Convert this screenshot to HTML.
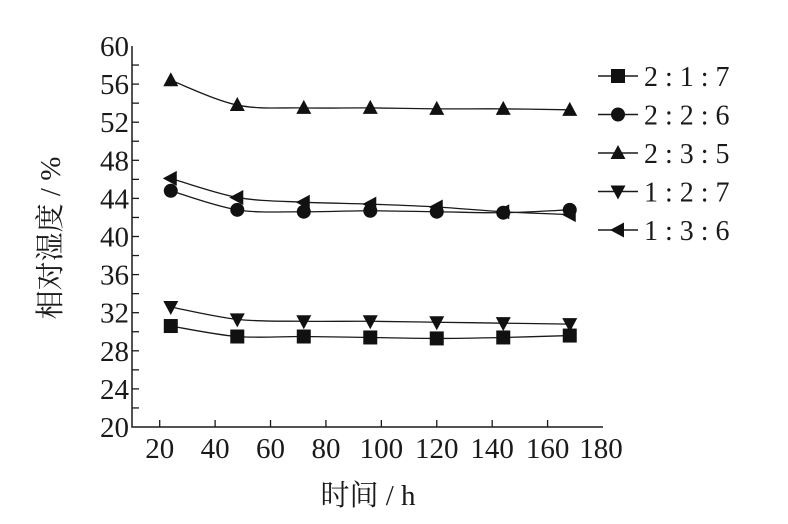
<!DOCTYPE html>
<html><head><meta charset="utf-8"><style>
body{margin:0;background:#fff}
svg text{font-family:"Liberation Serif","Noto Serif CJK SC",serif;fill:#1a1a1a}
</style></head><body>
<svg id="chart" width="788" height="519" viewBox="0 0 788 519" xmlns="http://www.w3.org/2000/svg">
<g id="axes"></g>
<g id="series"></g>
<g id="legend"></g>
<text transform="translate(60,238) rotate(-90)" text-anchor="middle" font-size="29">相对湿度 / %</text>
<text x="368" y="505" text-anchor="middle" font-size="29">时间 / h</text>
</svg>
<script>
const xTicks=[20,40,60,80,100,120,140,160,180];
const yTicks=[20,24,28,32,36,40,44,48,52,56,60];
const times=[24,48,72,96,120,144,168];
const seriesNames=["2 : 1 : 7","2 : 2 : 6","2 : 3 : 5","1 : 2 : 7","1 : 3 : 6"];
const s217=[30.6,29.5,29.5,29.4,29.3,29.4,29.6];
const s226=[44.8,42.8,42.6,42.7,42.6,42.5,42.8];
const s235=[56.4,53.8,53.5,53.5,53.4,53.4,53.3];
const s127=[32.6,31.3,31.1,31.1,31.0,30.9,30.8];
const s136=[46.1,44.1,43.6,43.4,43.1,42.6,42.3];
const seriesData=[s217,s226,s235,s127,s136];
const markers=["square","circle","up","down","left"];
const NS="http://www.w3.org/2000/svg";
const X0=132,X1=603,Y0=427,Y1=46;
const xmin=10,xmax=180,ymin=20,ymax=60;
const sx=v=>X0+(v-xmin)/(xmax-xmin)*(X1-X0);
const sy=v=>Y0-(v-ymin)/(ymax-ymin)*(Y0-Y1);
function mk(tag,attrs,parent){const e=document.createElementNS(NS,tag);for(const k in attrs)e.setAttribute(k,attrs[k]);parent.appendChild(e);return e;}
const axes=document.getElementById('axes');
let a=mk('path',{d:`M${X0},${Y1}V${Y0}H${X1}`,fill:'none',stroke:'#1a1a1a','stroke-width':1.5},axes);


xTicks.forEach(v=>{
 if(v<180){const t=mk('line',{x1:sx(v),x2:sx(v),y1:Y0,y2:Y0-7,stroke:'#1a1a1a','stroke-width':1.3},axes);
 
 }
 const l=mk('text',{x:sx(v)+(v===180?-2:0),y:Y0+31,'text-anchor':'middle','font-size':29},axes);l.textContent=v;
 
 
});
for(let v=ymin+2;v<ymax;v+=2){
 const t=mk('line',{x1:X0,x2:X0+7,y1:sy(v),y2:sy(v),stroke:'#1a1a1a','stroke-width':1.3},axes);
 
 
}
yTicks.forEach(v=>{
 const l=mk('text',{x:X0-3,y:sy(v)+10,'text-anchor':'end','font-size':29},axes);l.textContent=v;
 
 
});
function marker(type,x,y,parent){
 let e;
 if(type==='square')e=mk('rect',{x:x-7,y:y-7,width:14,height:14,fill:'#111'},parent);
 else if(type==='circle')e=mk('circle',{cx:x,cy:y,r:7,fill:'#111'},parent);
 else if(type==='up')e=mk('polygon',{points:`${x},${y-8} ${x-7.5},${y+6} ${x+7.5},${y+6}`,fill:'#111'},parent);
 else if(type==='down')e=mk('polygon',{points:`${x},${y+8} ${x-7.5},${y-6} ${x+7.5},${y-6}`,fill:'#111'},parent);
 else e=mk('polygon',{points:`${x-8},${y} ${x+6},${y-7.5} ${x+6},${y+7.5}`,fill:'#111'},parent);
 return e;
}
function smooth(pts){
 let d=`M${pts[0][0]},${pts[0][1]}`;
 for(let i=0;i<pts.length-1;i++){
  const p0=pts[i-1]||pts[i],p1=pts[i],p2=pts[i+1],p3=pts[i+2]||p2;
  const c1=[p1[0]+(p2[0]-p0[0])/6,p1[1]+(p2[1]-p0[1])/6];
  const c2=[p2[0]-(p3[0]-p1[0])/6,p2[1]-(p3[1]-p1[1])/6];
  d+=`C${c1[0]},${c1[1]} ${c2[0]},${c2[1]} ${p2[0]},${p2[1]}`;
 }
 return d;
}
const sg=document.getElementById('series');
const lg=document.getElementById('legend');
seriesData.forEach((vals,i)=>{
 const g=mk('g',{},sg);
 
 
 const pts=times.map((t,j)=>[sx(t),sy(vals[j])]);
 const p=mk('path',{d:smooth(pts),fill:'none',stroke:'#1a1a1a','stroke-width':1.3},g);
 
 
 pts.forEach(q=>{const m=marker(markers[i],q[0],q[1],g);
  
  });
 const ly=76+i*38.5;
 const le=mk('g',{},lg);
 
 
 mk('line',{x1:598,x2:638,y1:ly,y2:ly,stroke:'#1a1a1a','stroke-width':1.5},le);
 marker(markers[i],618,ly,le);
 const t=mk('text',{x:644,y:ly+10,'font-size':28},le);t.textContent=seriesNames[i];
});
</script>
</body></html>
